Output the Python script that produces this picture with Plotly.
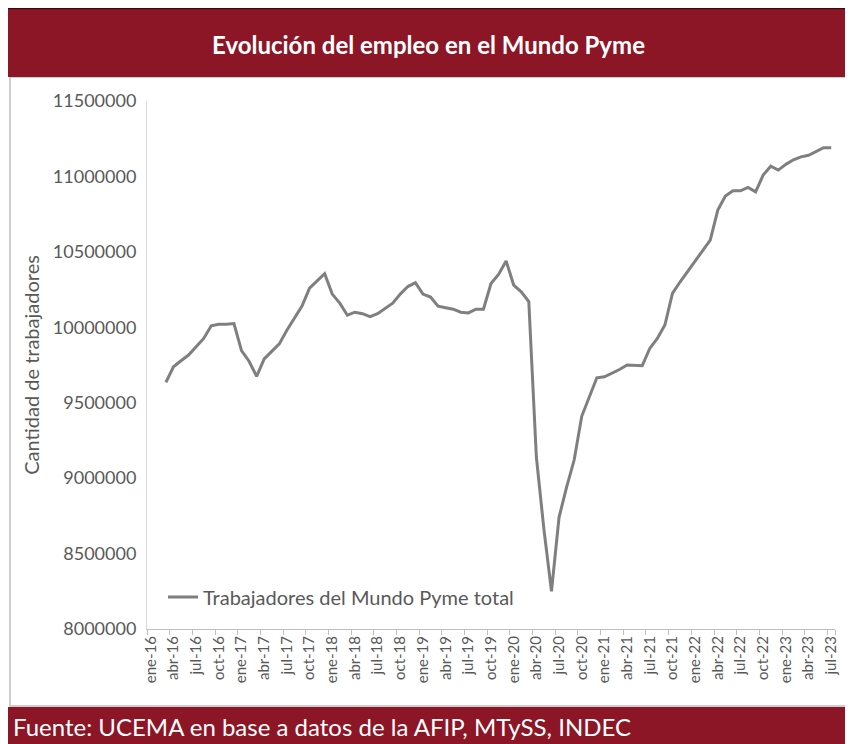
import plotly.graph_objects as go

MONTHS = ["ene", "feb", "mar", "abr", "may", "jun", "jul", "ago", "sep", "oct", "nov", "dic"]
categories = [f"{m}-{y:02d}" for y in range(16, 24) for m in MONTHS][:91]  # ene-16 .. jul-23

trabajadores = [
    None, None, 9635000, 9738000, 9778000, 9816000, 9871000, 9926000, 10010000, 10020000,
    10020000, 10025000, 9845000, 9775000, 9675000, 9790000, 9840000, 9890000, 9980000, 10060000,
    10140000, 10260000, 10310000, 10355000, 10220000, 10160000, 10080000, 10100000, 10090000, 10070000,
    10090000, 10125000, 10160000, 10220000, 10270000, 10295000, 10220000, 10200000, 10140000, 10130000,
    10120000, 10100000, 10095000, 10120000, 10120000, 10290000, 10350000, 10440000, 10280000, 10235000,
    10170000, 9140000, 8660000, 8250000, 8740000, 8940000, 9120000, 9410000, 9540000, 9665000,
    9672000, 9694000, 9720000, 9750000, 9750000, 9745000, 9860000, 9926000, 10015000, 10225000,
    10300000, 10370000, 10445000, 10510000, 10578000, 10777000, 10870000, 10905000, 10905000, 10927000,
    10898000, 11009000, 11068000, 11042000, 11080000, 11110000, 11130000, 11140000, 11163000, 11190000,
    11190000,
]

tick_labels = categories[::3]
y_ticks = [8000000, 8500000, 9000000, 9500000, 10000000, 10500000, 11000000, 11500000]

title_text = "Evolución del empleo en el Mundo Pyme"
source_text = "Fuente: UCEMA en base a datos de la AFIP, MTySS, INDEC"
series_name = "Trabajadores del Mundo Pyme total"

RED = "#8c1626"
GRAY_TXT = "#595959"
FONT = "Lato"

# page body has an 8px margin; work in reference-screen pixels and shift
OFF = 8
W, H = 853 - OFF, 744 - OFF
L, R, T, B = 147 - OFF, 835 - OFF, 101 - OFF, 629 - OFF
pw, ph = R - L, B - T


def px(x):
    return (x - OFF - L) / pw


def py(y):
    return (B - (y - OFF)) / ph


fig = go.Figure()
fig.add_trace(go.Scatter(
    x=categories, y=trabajadores, mode="lines", name=series_name,
    line=dict(color="#7f7f7f", width=3), connectgaps=False,
))

fig.update_layout(
    width=W, height=H,
    margin=dict(l=L, r=W - R, t=T, b=H - B),
    paper_bgcolor="white", plot_bgcolor="white",
    font=dict(family=FONT, color=GRAY_TXT),
    showlegend=True,
    legend=dict(x=px(163), y=py(597), xanchor="left", yanchor="middle",
                bgcolor="rgba(0,0,0,0)", font=dict(size=20, color=GRAY_TXT, family=FONT)),
    xaxis=dict(
        type="category", categoryorder="array", categoryarray=categories,
        tickmode="array", tickvals=tick_labels, ticktext=tick_labels,
        tickangle=-90, tickson="boundaries", ticks="outside", ticklen=5,
        tickcolor="#bfbfbf", showline=True, linecolor="#bfbfbf", linewidth=1,
        showgrid=False, tickfont=dict(size=15, color=GRAY_TXT, family=FONT),
        range=[-0.5, len(categories) - 0.5],
    ),
    yaxis=dict(
        range=[8000000, 11500000], tickvals=y_ticks, tickformat="d",
        showgrid=False, zeroline=False, showline=True, linecolor="#d9d9d9", linewidth=1,
        ticks="", ticklabelstandoff=6, tickfont=dict(size=18, color=GRAY_TXT, family=FONT),
        title=dict(text="Cantidad de trabajadores", font=dict(size=20, color=GRAY_TXT, family=FONT),
                   standoff=7),
    ),
    shapes=[
        dict(type="rect", xref="paper", yref="paper", x0=px(10), x1=px(851), y0=py(706), y1=py(77),
             line=dict(color="#bfbfbf", width=1.5), fillcolor="rgba(0,0,0,0)", layer="below"),
        dict(type="rect", xref="paper", yref="paper", x0=px(8), x1=px(853), y0=py(77), y1=py(8),
             line=dict(width=0), fillcolor=RED, layer="below"),
        dict(type="line", xref="paper", yref="paper", x0=px(8), x1=px(853), y0=py(8.5), y1=py(8.5),
             line=dict(color="#3a0a10", width=1.5)),
        dict(type="rect", xref="paper", yref="paper", x0=px(8), x1=px(853), y0=py(744), y1=py(707),
             line=dict(width=0), fillcolor=RED, layer="below"),
    ],
    annotations=[
        dict(text=f"<b>{title_text}</b>", xref="paper", yref="paper", x=px(428), y=py(44),
             xanchor="center", yanchor="middle", showarrow=False,
             font=dict(size=24, color="white", family=FONT)),
        dict(text=source_text, xref="paper", yref="paper", x=px(11), y=py(726),
             xanchor="left", yanchor="middle", showarrow=False,
             font=dict(size=24, color="white", family=FONT)),
    ],
)

fig.write_html("out.html")
